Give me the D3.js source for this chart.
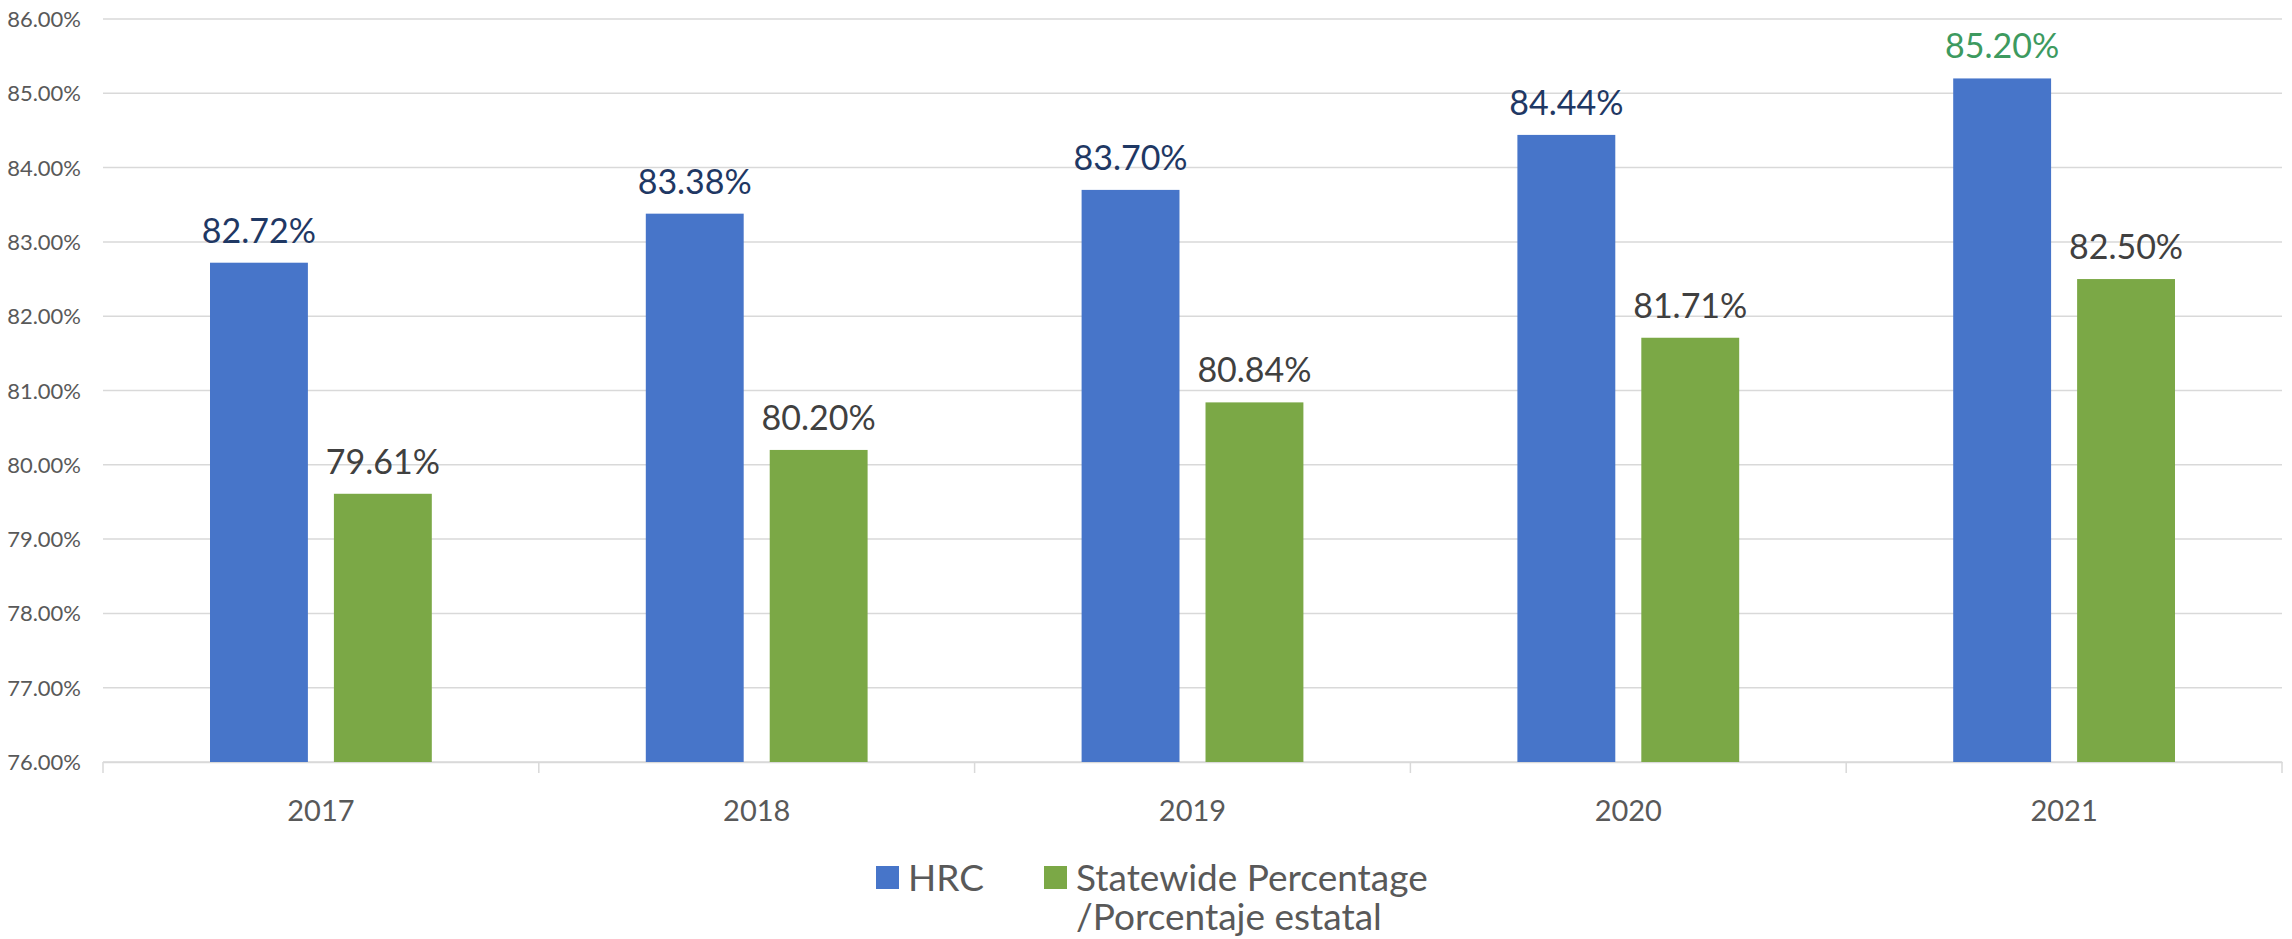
<!DOCTYPE html>
<html>
<head>
<meta charset="utf-8">
<script src="https://cdn.jsdelivr.net/npm/d3@7"></script>
<style>
  body { margin: 0; background: #fff; }
  text { font-family: Lato, "Open Sans", sans-serif; }
</style>
</head>
<body>
<svg id="chart"></svg>
<script>
var years = ["2017", "2018", "2019", "2020", "2021"];
var hrc = [82.72, 83.38, 83.70, 84.44, 85.20];
var statewide = [79.61, 80.20, 80.84, 81.71, 82.50];
var seriesNames = ["HRC", "Statewide Percentage", "/Porcentaje estatal"];
var yTicks = [76, 77, 78, 79, 80, 81, 82, 83, 84, 85, 86];

var width = 2292, height = 939;
var margin = {top: 19, right: 10, bottom: 177, left: 103};

var chart = d3.select('#chart')
    .attr('width', width)
    .attr('height', height);

var x = d3.scaleBand()
    .domain(years)
    .range([margin.left, width - margin.right]);

var inner = d3.scaleBand()
    .domain(["hrc", "state"])
    .range([107, x.bandwidth() - 107])
    .paddingInner(0.21);

var y = d3.scaleLinear()
    .domain([76, 86])
    .range([height - margin.bottom, margin.top]);

// gridlines
chart.append("g")
    .selectAll("line")
    .data(yTicks)
    .enter()
    .append("line")
        .attr("x1", margin.left)
        .attr("x2", width - margin.right)
        .attr("y1", d => y(d))
        .attr("y2", d => y(d))
        .attr("stroke", "#d9d9d9")
        .attr("stroke-width", 1.5);

// y labels
chart.append("g")
    .selectAll("text")
    .data(yTicks)
    .enter()
    .append("text")
        .attr("x", 81)
        .attr("y", d => y(d) + 8)
        .attr("text-anchor", "end")
        .attr("font-size", 22)
        .attr("fill", "#595959")
        .text(d => d.toFixed(2) + "%");

// x axis
var xAxis = d3.axisBottom(x)
    .tickSize(0)
    .tickPadding(38);

var gx = chart.append("g")
    .attr("transform", "translate(0," + y(76) + ")")
    .call(xAxis);
gx.select(".domain").attr("stroke", "#d9d9d9").attr("stroke-width", 1.5);
gx.selectAll(".tick text")
    .attr("font-size", 29)
    .attr("fill", "#595959")
    .style("font-family", "Lato, sans-serif");

// category separators
chart.append("g")
    .selectAll("line")
    .data(years.map((d, i) => i).concat([years.length]))
    .enter()
    .append("line")
        .attr("x1", i => margin.left + i * x.step())
        .attr("x2", i => margin.left + i * x.step())
        .attr("y1", y(76))
        .attr("y2", y(76) + 11)
        .attr("stroke", "#d9d9d9")
        .attr("stroke-width", 1.5);

var rows = years.map((d, i) => ({year: d, hrc: hrc[i], state: statewide[i], i: i}));

// HRC bars
chart.append("g")
    .selectAll("rect")
    .data(rows)
    .enter()
    .append("rect")
        .attr("x", d => x(d.year) + inner("hrc"))
        .attr("y", d => y(d.hrc))
        .attr("width", inner.bandwidth())
        .attr("height", d => y(76) - y(d.hrc))
        .attr("fill", "#4775c9");

// statewide bars
chart.append("g")
    .selectAll("rect")
    .data(rows)
    .enter()
    .append("rect")
        .attr("x", d => x(d.year) + inner("state"))
        .attr("y", d => y(d.state))
        .attr("width", inner.bandwidth())
        .attr("height", d => y(76) - y(d.state))
        .attr("fill", "#7ba846");

// labels
chart.append("g")
    .selectAll("text")
    .data(rows)
    .enter()
    .append("text")
        .attr("x", d => x(d.year) + inner("hrc") + inner.bandwidth() / 2)
        .attr("y", d => y(d.hrc) - 20)
        .attr("text-anchor", "middle")
        .attr("font-size", 34)
        .attr("fill", d => d.i == 4 ? "#3d9a5f" : "#1f3864")
        .text(d => d.hrc.toFixed(2) + "%");

chart.append("g")
    .selectAll("text")
    .data(rows)
    .enter()
    .append("text")
        .attr("x", d => x(d.year) + inner("state") + inner.bandwidth() / 2)
        .attr("y", d => y(d.state) - 20)
        .attr("text-anchor", "middle")
        .attr("font-size", 34)
        .attr("fill", "#404040")
        .text(d => d.state.toFixed(2) + "%");

// legend
var legend = chart.append("g");
legend.append("rect")
    .attr("x", 876).attr("y", 866)
    .attr("width", 23).attr("height", 23)
    .attr("fill", "#4775c9");
legend.append("text")
    .attr("x", 908).attr("y", 891)
    .attr("font-size", 37)
    .attr("fill", "#595959")
    .text(seriesNames[0]);
legend.append("rect")
    .attr("x", 1044).attr("y", 866)
    .attr("width", 23).attr("height", 23)
    .attr("fill", "#7ba846");
legend.append("text")
    .attr("x", 1076).attr("y", 891)
    .attr("font-size", 37)
    .attr("fill", "#595959")
    .text(seriesNames[1]);
legend.append("text")
    .attr("x", 1076).attr("y", 930)
    .attr("font-size", 37)
    .attr("fill", "#595959")
    .text(seriesNames[2]);
</script>
</body>
</html>
